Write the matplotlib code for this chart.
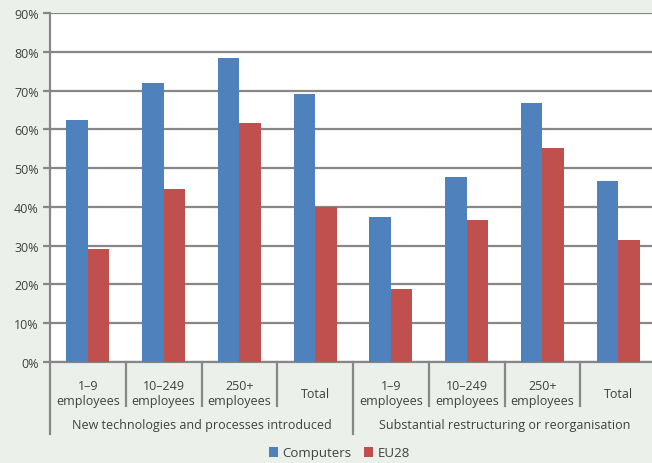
import numpy as np
import matplotlib.pyplot as plt
from matplotlib.transforms import blended_transform_factory

# share of workers (%) by firm size
kategori = ['1–9\nemployees', '10–249\nemployees', '250+\nemployees', 'Total',
            '1–9\nemployees', '10–249\nemployees', '250+\nemployees', 'Total']
grup = ['New technologies and processes introduced',
        'Substantial restructuring or reorganisation']
computers = [62.4, 71.9, 78.4, 69.1, 37.4, 47.7, 66.7, 46.6]
eu28 = [29.1, 44.6, 61.6, 40.1, 18.8, 36.6, 55.2, 31.4]

warna_bg = '#EBF1EA'
warna_grid = '#878787'
warna_teks = '#404040'

plt.rcParams['font.family'] = ['Open Sans', 'DejaVu Sans']
plt.rcParams['font.size'] = 9

fig = plt.figure(figsize=(6.52, 4.64), dpi=100, facecolor=warna_bg)
ax = fig.add_axes([50 / 652, 1 - 363 / 464, 606 / 652, 349 / 464])

x = np.arange(len(kategori))
lebar = 0.285
ax.bar(x - lebar / 2, computers, lebar, color='#4F81BD', label='Computers', zorder=3)
ax.bar(x + lebar / 2, eu28, lebar, color='#C0504D', label='EU28', zorder=3)

ax.set_xlim(-0.5, len(kategori) - 0.5)
ax.set_ylim(0, 90)
ax.set_yticks(np.arange(0, 91, 10))
ax.set_yticklabels([f'{v}%' for v in range(0, 91, 10)], color=warna_teks)
ax.yaxis.grid(True, color=warna_grid, linewidth=1.6, zorder=0)
ax.set_axisbelow(True)
ax.tick_params(axis='y', length=5, width=1.6, color=warna_grid, pad=3)
ax.set_xticks([])
for s in ['top', 'right']:
    ax.spines[s].set_visible(False)
for s in ['left', 'bottom']:
    ax.spines[s].set_color(warna_grid)
    ax.spines[s].set_linewidth(1.6)

# sumbu x bertingkat: kategori lalu grup
tr = blended_transform_factory(ax.transData, ax.transAxes)
for i, lab in enumerate(kategori):
    ax.text(i, -0.089, lab, transform=tr, ha='center', va='center',
            color=warna_teks, linespacing=1.25)
for b in np.arange(-0.5, len(kategori), 1):
    panjang = -0.206 if b in (-0.5, 3.5, 7.5) else -0.126
    ax.plot([b, b], [0, panjang], transform=tr, color=warna_grid,
            linewidth=1.6, clip_on=False)
for j, lab in enumerate(grup):
    ax.text(1.5 + 4 * j, -0.18, lab, transform=tr, ha='center', va='center',
            color=warna_teks)

fig.legend(loc='center', bbox_to_anchor=(0.52, 10 / 464), ncol=2, frameon=False,
           handlelength=0.7, handleheight=0.7, handletextpad=0.3,
           columnspacing=1.0, labelcolor=warna_teks, fontsize=9.5)

fig.savefig('out.png', dpi=100, facecolor=warna_bg)
